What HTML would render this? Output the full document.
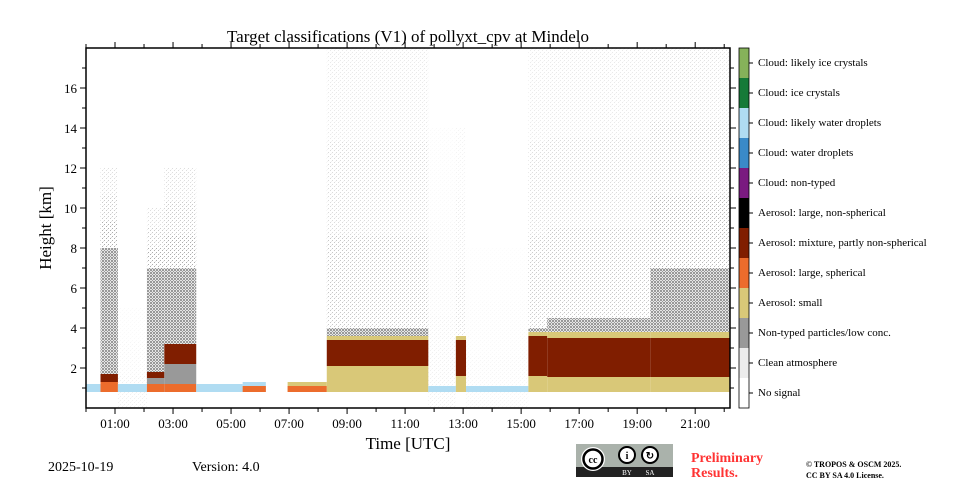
<!DOCTYPE html>
<html><head><meta charset="utf-8">
<style>
body{margin:0;background:#fff;width:960px;height:480px;overflow:hidden;font-family:"Liberation Serif",serif}
svg text{font-family:"Liberation Serif",serif}
</style></head>
<body>
<svg id="chart" width="960" height="480" viewBox="0 0 960 480" xmlns="http://www.w3.org/2000/svg">
<defs>
<pattern id="dense" width="3" height="3" patternUnits="userSpaceOnUse">
<rect width="3" height="3" fill="#e6e6e6"/><rect x="0" y="0" width="1" height="1" fill="#999"/><rect x="2" y="1" width="1" height="1" fill="#999"/><rect x="1" y="2" width="1" height="1" fill="#999"/><rect x="1" y="0" width="1" height="1" fill="#999"/><rect x="0" y="2" width="1" height="1" fill="#999"/>
</pattern>
<pattern id="sparse" width="4" height="4" patternUnits="userSpaceOnUse">
<rect x="0" y="0" width="1" height="1" fill="#999"/><rect x="2" y="2" width="1" height="1" fill="#999"/><rect x="3" y="1" width="1" height="1" fill="#ddd"/>
</pattern>
</defs>
<g id="plot"></g>
<g id="axes"></g>
<g id="cbar"></g>
<text x="408" y="42" text-anchor="middle" font-size="17">Target classifications (V1) of pollyxt_cpv at Mindelo</text>
<text transform="translate(51,228) rotate(-90)" text-anchor="middle" font-size="17">Height [km]</text>
<text x="408" y="449" text-anchor="middle" font-size="17">Time [UTC]</text>
<text x="48" y="471" font-size="14">2025-10-19</text>
<text x="192" y="471" font-size="14">Version: 4.0</text>
<g>
<rect x="576" y="444" width="97" height="33" fill="#aab2ab"/>
<rect x="576" y="467" width="97" height="10" fill="#222"/>
<circle cx="593" cy="459" r="12" fill="#fff"/><circle cx="593" cy="459" r="9.5" fill="#fff" stroke="#000" stroke-width="2.5"/>
<text x="593" y="463" text-anchor="middle" font-size="10" font-weight="bold" font-family="Liberation Sans">cc</text>
<circle cx="627" cy="455" r="8" fill="#fff" stroke="#000" stroke-width="2"/>
<circle cx="650" cy="455" r="8" fill="#fff" stroke="#000" stroke-width="2"/>
<text x="627" y="459" text-anchor="middle" font-size="10" font-weight="bold">i</text>
<text x="650" y="459" text-anchor="middle" font-size="10" font-weight="bold">↻</text>
<text x="627" y="475" text-anchor="middle" font-size="7" fill="#fff" font-family="Liberation Sans">BY</text>
<text x="650" y="475" text-anchor="middle" font-size="7" fill="#fff" font-family="Liberation Sans">SA</text>
</g>
<text x="691" y="462" font-size="14" font-weight="bold" fill="#ff3333">Preliminary</text>
<text x="691" y="477" font-size="14" font-weight="bold" fill="#ff3333">Results.</text>
<text x="806" y="467" font-size="8" font-weight="bold">© TROPOS &amp; OSCM 2025.</text>
<text x="806" y="478" font-size="8" font-weight="bold">CC BY SA 4.0 License.</text>
</svg>
<script>
// segment data (hours, km)
const segStart = [0,0.5,1.1,2.1,2.7,3.8,5.4,6.2,6.95,8.3,11.8,12.75,13.1,15.25,15.9,19.45];
const segEnd   = [0.5,1.1,2.1,2.7,3.8,5.4,6.2,6.95,8.3,11.8,12.75,13.1,15.25,15.9,19.45,22.2];
const blueTop  = [1.2,1.2,1.2,1.1,1.1,1.2,1.3,0.8,0.8,0.8,1.1,0.8,1.1,0.8,0.8,0.8];
const orangeTop= [0.8,1.3,0.8,1.2,1.2,0.8,1.1,0.8,1.1,0.8,0.8,0.8,0.8,0.8,0.8,0.8];
const tanTop   = [0.8,0.8,0.8,0.8,0.8,0.8,0.8,0.8,1.3,2.1,0.8,1.6,0.8,1.6,1.55,1.55];
const redBot   = [0,1.3,0,1.5,2.2,0,0,0,0,2.1,0,1.6,0,1.6,1.55,1.55];
const redTop   = [0,1.7,0,1.8,3.2,0,0,0,0,3.4,0,3.4,0,3.6,3.5,3.5];
const tan2Top  = [0,0,0,0,0,0,0,0,0,3.6,0,3.6,0,3.8,3.8,3.8];
const denseTop = [0,8,0,7,7,0,0,0,0,4,0,0,0,4,4.5,7];
const sparseTop= [0,12,5,10,12,0,0,0,0,18,14,14,8,18,18,18];
const sparseAlpha=[0,0.8,0.15,0.8,0.8,0,0,0,0,0.55,0.15,0.3,0.1,0.5,0.55,0.7];
const xTicks = ["01:00","03:00","05:00","07:00","09:00","11:00","13:00","15:00","17:00","19:00","21:00"];
const xTickHours = [1,3,5,7,9,11,13,15,17,19,21];
const yTicks = [2,4,6,8,10,12,14,16];
const cbLabels = ["Cloud: likely ice crystals","Cloud: ice crystals","Cloud: likely water droplets","Cloud: water droplets","Cloud: non-typed","Aerosol: large, non-spherical","Aerosol: mixture, partly non-spherical","Aerosol: large, spherical","Aerosol: small","Non-typed particles/low conc.","Clean atmosphere","No signal"];
const cbColors = ["#86b25a","#167a38","#b0dcf2","#3a8ac8","#7a1a80","#000000","#801e00","#ec6c2c","#d9c878","#999999","#ececec","#ffffff"];

const X0=86,X1=730,Y0=408,Y1=48,HMAX=22.2,KMAX=18;
const xs=h=>X0+(h/HMAX)*(X1-X0);
const ys=k=>Y0-(k/KMAX)*(Y0-Y1);
const NS="http://www.w3.org/2000/svg";
const plot=document.getElementById('plot');
function rect(p,x,y,w,h,fill,op){const r=document.createElementNS(NS,'rect');r.setAttribute('x',x);r.setAttribute('y',y);r.setAttribute('width',Math.max(0,w));r.setAttribute('height',Math.max(0,h));r.setAttribute('fill',fill);if(op!==undefined)r.setAttribute('opacity',op);p.appendChild(r);return r;}
function layer(i,b,t,fill,op,name){if(t<=b)return;const x=xs(segStart[i]),w=xs(segEnd[i])-x;const r=rect(plot,x,ys(t),w,ys(b)-ys(t),fill,op);

}
for(let i=0;i<segStart.length;i++){
  const top=Math.max(tan2Top[i],redTop[i]);
  const sb=Math.max(denseTop[i],top), st=sparseTop[i];
  if(st>sb){const d=(st-sb)/3;
    layer(i,sb,sb+d,'url(#sparse)',sparseAlpha[i],'sparse-noise');
    layer(i,sb+d,sb+2*d,'url(#sparse)',sparseAlpha[i]*0.65,'sparse-noise');
    layer(i,sb+2*d,st,'url(#sparse)',sparseAlpha[i]*0.4,'sparse-noise');}
  layer(i,top,denseTop[i],'url(#dense)',1,'dense-noise');
  layer(i,0.8,blueTop[i],'#b0dcf2',1,'water-droplets-layer');
  layer(i,0.8,tanTop[i],'#d9c878',1,'small-aerosol-layer');
  layer(i,0.8,orangeTop[i],'#ec6c2c',1,'large-spherical-layer');
  if(redBot[i]>orangeTop[i]&&tanTop[i]<=0.8) layer(i,orangeTop[i],redBot[i],'#999',1,'nontyped-layer');
  layer(i,redBot[i],redTop[i],'#801e00',1,'mixture-aerosol-layer');
  layer(i,redTop[i],tan2Top[i],'#d9c878',1,'small-aerosol-top');
}
const ax=document.getElementById('axes');
function line(x1,y1,x2,y2,w){const l=document.createElementNS(NS,'line');l.setAttribute('x1',x1);l.setAttribute('y1',y1);l.setAttribute('x2',x2);l.setAttribute('y2',y2);l.setAttribute('stroke','#000');l.setAttribute('stroke-width',w||1);ax.appendChild(l);return l;}
const fr=rect(ax,X0,Y1,X1-X0,Y0-Y1,'none');fr.setAttribute('stroke','#000');fr.setAttribute('stroke-width','1.5');


for(let h=0;h<=22;h++){const x=xs(h);const big=h%2===1;line(x,Y0,x,Y0+(big?6:4));line(x,Y1,x,Y1-(big?6:4));}
xTickHours.forEach((h,i)=>{const t=document.createElementNS(NS,'text');t.setAttribute('x',xs(h));t.setAttribute('y',428);t.setAttribute('text-anchor','middle');t.setAttribute('font-size','13');t.textContent=xTicks[i];


ax.appendChild(t);});
for(let k=1;k<18;k++){const y=ys(k);const big=k%2===0;line(X0,y,X0-(big?6:4),y);line(X1,y,X1+(big?6:4),y);}
yTicks.forEach(k=>{const t=document.createElementNS(NS,'text');t.setAttribute('x',77);t.setAttribute('y',ys(k)+5);t.setAttribute('text-anchor','end');t.setAttribute('font-size','13');t.textContent=k;


ax.appendChild(t);});
const cb=document.getElementById('cbar');
cbLabels.forEach((lab,i)=>{const y=48+i*30;rect(cb,739,y,10,30,cbColors[i]);
const l=document.createElementNS(NS,'line');l.setAttribute('x1',749);l.setAttribute('x2',753);l.setAttribute('y1',y+15);l.setAttribute('y2',y+15);l.setAttribute('stroke','#000');cb.appendChild(l);
const t=document.createElementNS(NS,'text');t.setAttribute('x',758);t.setAttribute('y',y+18);t.setAttribute('font-size','11');t.textContent=lab;


cb.appendChild(t);});
const cbf=rect(cb,739,48,10,360,'none');cbf.setAttribute('stroke','#000');cbf.setAttribute('stroke-width','0.8');


</script>
</body></html>
